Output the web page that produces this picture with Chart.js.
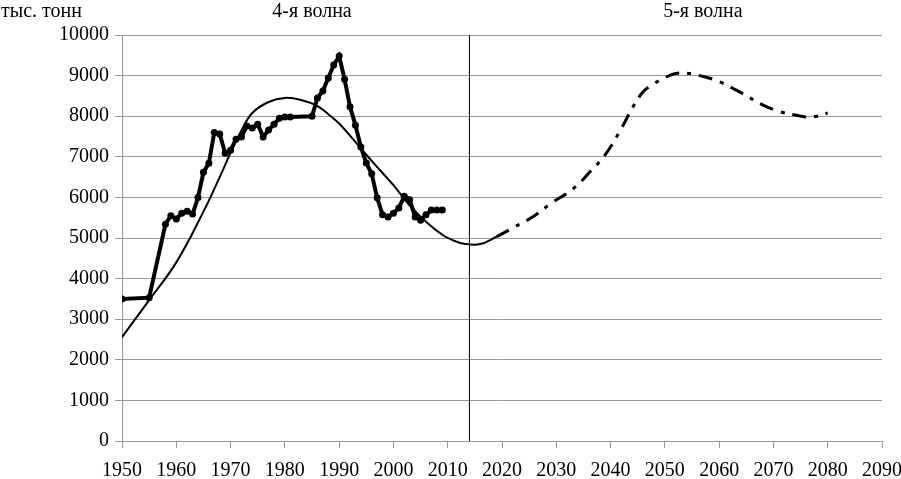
<!DOCTYPE html>
<html>
<head>
<meta charset="utf-8">
<script src="https://cdn.jsdelivr.net/npm/chart.js@4/dist/chart.umd.min.js"></script>
<style>
html,body{margin:0;padding:0;background:#fff;}
#wrap{position:relative;width:901px;height:479px;}
</style>
</head>
<body>
<div id="wrap"><canvas id="c" width="901" height="479"></canvas></div>
<script>
// Actual data (thousand tonnes)
const actualYears = [1950,1955,1958,1959,1960,1961,1962,1963,1964,1965,1966,1967,1968,1969,1970,1971,1972,1973,1974,1975,1976,1977,1978,1979,1980,1981,1985,1986,1987,1988,1989,1990,1991,1992,1993,1994,1995,1996,1997,1998,1999,2000,2001,2002,2003,2004,2005,2006,2007,2008,2009];
const actualValues = [3500,3530,5340,5550,5470,5610,5660,5590,6000,6620,6840,7600,7560,7090,7160,7430,7490,7760,7710,7800,7490,7660,7800,7950,7980,7980,8000,8450,8620,8940,9260,9480,8910,8230,7780,7240,6850,6580,5990,5570,5520,5610,5740,6030,5940,5520,5440,5570,5690,5690,5690];

// Smoothed wave (4th wave)
const trendYears = [1950,1955,1960,1965,1968,1970,1972,1974,1977,1980,1983,1986,1988,1990,1992,1995,1998,2000,2003,2006,2009,2011,2013,2016,2019];
const trendValues = [2560,3470,4400,5650,6500,7100,7650,8080,8350,8450,8400,8250,8050,7820,7520,7050,6600,6300,5800,5400,5080,4940,4860,4850,5030];

// Forecast (5th wave)
const forecastYears = [2019,2022,2026,2029,2033,2036,2039,2042,2044,2046,2048,2050,2052,2054,2057,2060,2064,2068,2071,2074,2076,2078,2080];
const forecastValues = [5030,5250,5550,5850,6200,6600,7050,7700,8200,8600,8800,8950,9050,9060,8980,8850,8580,8280,8120,8030,7980,8000,8080];

// Divider between waves
const dividerYear = 2014;
const yRange = [0, 10000];
const xRange = [1950, 2090];

const unitLabel = 'тыс. тонн';
const waveLabels = [{text:'4-я волна', year:1985}, {text:'5-я волна', year:2057}];

const pts = (xs, ys) => xs.map((x,i)=>({x:x, y:ys[i]}));

const FONT = '"Liberation Serif", "Times New Roman", serif';

const textPlugin = {
  id:'texts',
  afterDraw(chart){
    const ctx = chart.ctx;
    const xs = chart.scales.x;
    ctx.save();
    ctx.fillStyle = '#000';
    ctx.font = '20px ' + FONT;
    ctx.textBaseline = 'alphabetic';
    ctx.textAlign = 'left';
    ctx.fillText(unitLabel, 1, 17);
    ctx.textAlign = 'center';
    waveLabels.forEach(w => ctx.fillText(w.text, xs.getPixelForValue(w.year), 17));
    ctx.restore();
  }
};

new Chart(document.getElementById('c'), {
  type:'line',
  data:{
    datasets:[
      {
        label:'divider',
        data: pts([dividerYear, dividerYear], yRange),
        borderColor:'#000', borderWidth:1, pointRadius:0, tension:0
      },
      {
        label:'trend',
        data: pts(trendYears, trendValues),
        borderColor:'#000', borderWidth:2, pointRadius:0, tension:0.4
      },
      {
        label:'forecast',
        data: pts(forecastYears, forecastValues),
        borderColor:'#000', borderWidth:3, pointRadius:0, tension:0.4,
        borderDash:[14,8,4,8]
      },
      {
        label:'actual',
        data: pts(actualYears, actualValues),
        borderColor:'#000', backgroundColor:'#000', borderWidth:4,
        pointRadius:3.5, pointBackgroundColor:'#000', pointBorderWidth:0,
        tension:0
      }
    ]
  },
  options:{
    responsive:false,
    animation:false,
    layout:{padding:{top:35, left:0, right:0, bottom:0}},
    plugins:{legend:{display:false}, tooltip:{enabled:false}},
    scales:{
      x:{
        type:'linear', min:xRange[0], max:xRange[1],
        ticks:{stepSize:10, color:'#000', font:{family:FONT, size:20}, padding:11, maxRotation:0,
          callback:v=>String(v)},
        grid:{drawOnChartArea:false, drawTicks:true, tickLength:7, color:'#999'},
        border:{color:'#999'},
        afterFit(s){ s.height = 38; s.paddingRight = 19; s.paddingLeft = 0; }
      },
      y:{
        min:yRange[0], max:yRange[1],
        ticks:{stepSize:1000, color:'#000', font:{family:FONT, size:20}, padding:6,
          callback:v=>String(v)},
        grid:{color:'#999', tickLength:7},
        border:{color:'#999'},
        afterFit(s){ s.width = 122; }
      }
    }
  },
  plugins:[textPlugin]
});
</script>
</body>
</html>
